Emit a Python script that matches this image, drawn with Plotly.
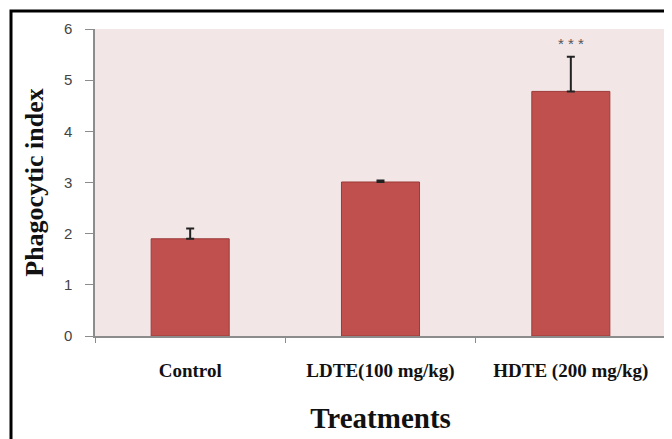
import plotly.graph_objects as go

categories = ["Control", "LDTE(100 mg/kg)", "HDTE (200 mg/kg)"]
values = [1.9, 3.01, 4.78]
errors = [0.2, 0.03, 0.68]
significance = ["", "", "* * *"]
y_ticks = [0, 1, 2, 3, 4, 5, 6]

# page has an 8px body margin; figure coordinates below are relative to the figure
L, R, T, B = 87, 14, 21, 111
W, H = 672, 439
pw, ph = W - L - R, H - T - B

fig = go.Figure()
fig.add_trace(go.Bar(
    x=categories, y=values,
    marker=dict(color="#C0504D", line=dict(color="#9A3B39", width=1)),
    width=0.41,
    error_y=dict(type="data", array=errors, symmetric=False, arrayminus=[0]*3,
                 color="#222222", thickness=2, width=4),
))

for c, v, e, s in zip(categories, values, errors, significance):
    if s:
        fig.add_annotation(x=c, y=v + e, text=s, showarrow=False, yanchor="bottom", yshift=3,
                           font=dict(family="Liberation Sans", size=15, color="#555555"))

def px_to_paper_x(p):
    return (p - L) / pw

def px_to_paper_y(p):
    return (H - B - p) / ph

fig.add_shape(type="rect", xref="paper", yref="paper",
              x0=px_to_paper_x(3), x1=px_to_paper_x(700),
              y0=px_to_paper_y(470), y1=px_to_paper_y(3),
              line=dict(color="black", width=3), fillcolor="rgba(0,0,0,0)", layer="above")

fig.update_layout(
    width=W, height=H,
    margin=dict(l=L, r=R, t=T, b=B),
    paper_bgcolor="white",
    plot_bgcolor="#F2E6E6",
    showlegend=False,
    xaxis=dict(
        showline=True, linecolor="#8C8C8C", linewidth=1.5,
        ticks="outside", tickson="boundaries", ticklen=5, tickcolor="#8C8C8C",
        tickfont=dict(family="Liberation Serif", size=19, color="#111111", weight="bold"),
        ticklabelstandoff=16,
        title=dict(text="<b>Treatments</b>", standoff=27,
                   font=dict(family="Liberation Serif", size=29, color="#111111")),
        showgrid=False,
    ),
    yaxis=dict(
        range=[0, 6], tickvals=y_ticks,
        showline=True, linecolor="#8C8C8C", linewidth=1.5,
        ticks="outside", ticklen=8, tickcolor="#8C8C8C",
        tickfont=dict(family="Liberation Sans", size=15, color="#444444"),
        ticklabelstandoff=10,
        showgrid=False, zeroline=False,
        title=dict(text="<b>Phagocytic index</b>", standoff=13,
                   font=dict(family="Liberation Serif", size=26, color="#111111")),
    ),
)

fig.write_html("out.html")
